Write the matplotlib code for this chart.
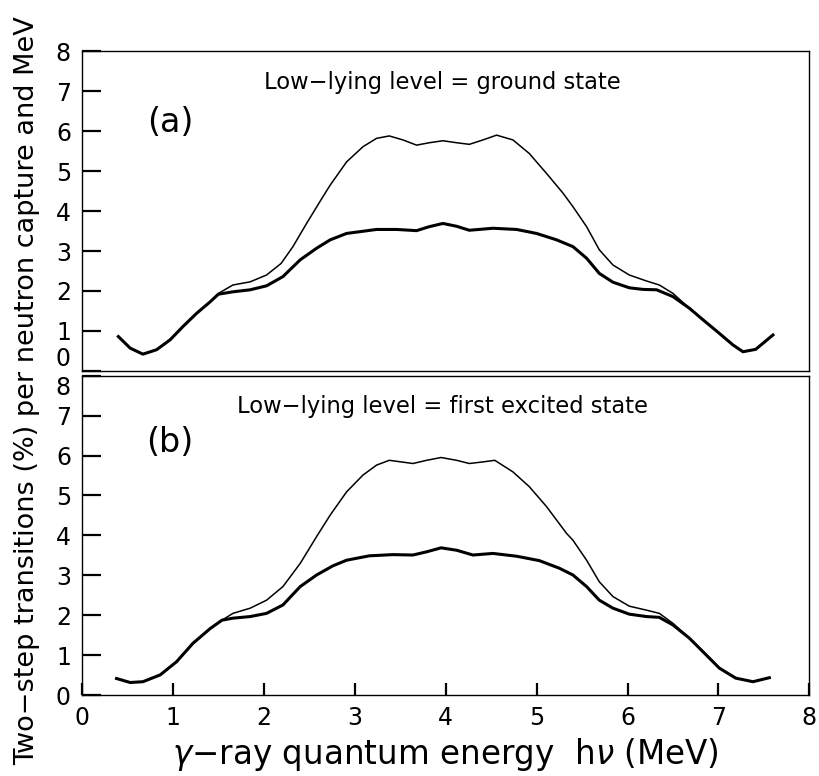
import matplotlib.pyplot as plt

# panel (a): low-lying level = ground state
a_thin_x = [0.40, 0.53, 0.67, 0.82, 0.97, 1.11, 1.26, 1.41, 1.50, 1.66, 1.85, 2.03, 2.19, 2.32, 2.47, 2.65,
            2.73, 2.91, 3.09, 3.24, 3.38, 3.53, 3.68, 3.82, 3.97, 4.12, 4.26, 4.41, 4.56, 4.74, 4.92, 5.11,
            5.29, 5.40, 5.55, 5.69, 5.84, 6.02, 6.21, 6.35, 6.50, 6.68, 6.83, 7.01, 7.16, 7.27, 7.41, 7.60]
a_thin_y = [0.86, 0.57, 0.42, 0.53, 0.78, 1.11, 1.44, 1.73, 1.94, 2.15, 2.23, 2.40, 2.69, 3.11, 3.69, 4.36,
            4.65, 5.23, 5.61, 5.82, 5.88, 5.78, 5.65, 5.71, 5.76, 5.71, 5.67, 5.78, 5.90, 5.78, 5.44, 4.94,
            4.45, 4.11, 3.61, 3.03, 2.65, 2.40, 2.25, 2.15, 1.94, 1.57, 1.28, 0.94, 0.65, 0.48, 0.54, 0.90]
a_thick_x = [0.40, 0.53, 0.67, 0.82, 0.97, 1.11, 1.26, 1.41, 1.50, 1.66, 1.85, 2.03, 2.21, 2.40, 2.58,
             2.73, 2.91, 3.24, 3.46, 3.68, 3.82, 3.97, 4.12, 4.26, 4.52, 4.78, 5.00, 5.22, 5.40, 5.55,
             5.69, 5.84, 6.02, 6.17, 6.32, 6.50, 6.68, 6.83, 7.01, 7.16, 7.27, 7.41, 7.60]
a_thick_y = [0.86, 0.57, 0.42, 0.53, 0.78, 1.11, 1.44, 1.73, 1.92, 1.98, 2.03, 2.13, 2.36, 2.78, 3.07,
             3.28, 3.44, 3.54, 3.54, 3.51, 3.61, 3.69, 3.62, 3.52, 3.57, 3.54, 3.44, 3.28, 3.11, 2.82,
             2.44, 2.22, 2.08, 2.04, 2.03, 1.86, 1.57, 1.28, 0.94, 0.65, 0.48, 0.54, 0.90]

# panel (b): low-lying level = first excited state
b_thin_x = [0.38, 0.53, 0.67, 0.86, 1.04, 1.22, 1.41, 1.54, 1.66, 1.85, 2.03, 2.21, 2.40, 2.58, 2.73,
            2.91, 3.09, 3.24, 3.38, 3.64, 3.79, 3.95, 4.12, 4.26, 4.41, 4.54, 4.74, 4.92, 5.11, 5.33,
            5.40, 5.55, 5.69, 5.84, 6.02, 6.21, 6.35, 6.50, 6.68, 6.83, 7.01, 7.19, 7.38, 7.56]
b_thin_y = [0.42, 0.32, 0.34, 0.51, 0.84, 1.30, 1.67, 1.88, 2.05, 2.18, 2.38, 2.72, 3.30, 3.97, 4.51,
            5.09, 5.51, 5.76, 5.88, 5.80, 5.88, 5.95, 5.88, 5.80, 5.84, 5.88, 5.59, 5.22, 4.72, 4.05,
            3.88, 3.38, 2.84, 2.47, 2.23, 2.13, 2.05, 1.80, 1.43, 1.09, 0.68, 0.43, 0.34, 0.44]
b_thick_x = [0.38, 0.53, 0.67, 0.86, 1.04, 1.22, 1.41, 1.54, 1.66, 1.85, 2.03, 2.21, 2.40, 2.58, 2.76,
             2.91, 3.16, 3.42, 3.64, 3.79, 3.95, 4.12, 4.30, 4.52, 4.78, 5.03, 5.25, 5.40, 5.55, 5.69,
             5.84, 6.02, 6.21, 6.35, 6.50, 6.68, 6.83, 7.01, 7.19, 7.38, 7.56]
b_thick_y = [0.42, 0.32, 0.34, 0.51, 0.84, 1.30, 1.67, 1.88, 1.93, 1.97, 2.05, 2.26, 2.72, 3.01, 3.24,
             3.38, 3.49, 3.52, 3.51, 3.59, 3.69, 3.63, 3.51, 3.55, 3.48, 3.37, 3.18, 3.01, 2.72, 2.38,
             2.18, 2.03, 1.97, 1.95, 1.76, 1.43, 1.09, 0.68, 0.43, 0.34, 0.44]

yticks = [0, 1, 2, 3, 4, 5, 6, 7, 8]
xticks = [0, 1, 2, 3, 4, 5, 6, 7, 8]

fig = plt.figure(figsize=(8.2, 7.76), dpi=100)
ax_a = fig.add_axes([0.1, 0.522, 0.887, 0.412])
ax_b = fig.add_axes([0.1, 0.104, 0.887, 0.412])

panels = [
    (ax_a, a_thin_x, a_thin_y, a_thick_x, a_thick_y, "(a)", 0.778, "Low\u2212lying level = ground state"),
    (ax_b, b_thin_x, b_thin_y, b_thick_x, b_thick_y, "(b)", 0.79, "Low\u2212lying level = first excited state"),
]

for ax, tx, ty, kx, ky, tag, tag_y, title in panels:
    ax.plot(tx, ty, color='black', lw=1.1, solid_joinstyle='round')
    ax.plot(kx, ky, color='black', lw=2.2, solid_joinstyle='round')
    ax.set_xlim(0, 8)
    ax.set_ylim(0, 8)
    ax.set_yticks(yticks)
    ax.tick_params(axis='y', direction='in', length=13.5, width=1.6, labelsize=17, pad=8)
    ax.tick_params(axis='x', direction='in', length=8.5, width=1.6, labelsize=17, pad=8)
    ax.text(0.121, tag_y, tag, transform=ax.transAxes, fontsize=24, ha='center', va='center')
    ax.text(0.495, 0.903, title, transform=ax.transAxes, fontsize=16.3, ha='center', va='center')
    for sp in ax.spines.values():
        sp.set_linewidth(1.0)

ax_a.set_xticks([])
ax_b.set_xticks(xticks)
ax_b.set_xlabel(r"$\gamma$$-$ray quantum energy  h$\nu$ (MeV)", fontsize=23.5, labelpad=4)

# the "0" of (a) and the "8" of (b) sit apart, as in the original
ax_a.get_yticklabels()[0].set_va('bottom')
ax_b.get_yticklabels()[-1].set_va('top')

fig.text(0.033, 0.497, "Two\u2212step transitions (%) per neutron capture and MeV",
         rotation=90, fontsize=19.5, ha='center', va='center')

fig.savefig("out.png", dpi=100)
